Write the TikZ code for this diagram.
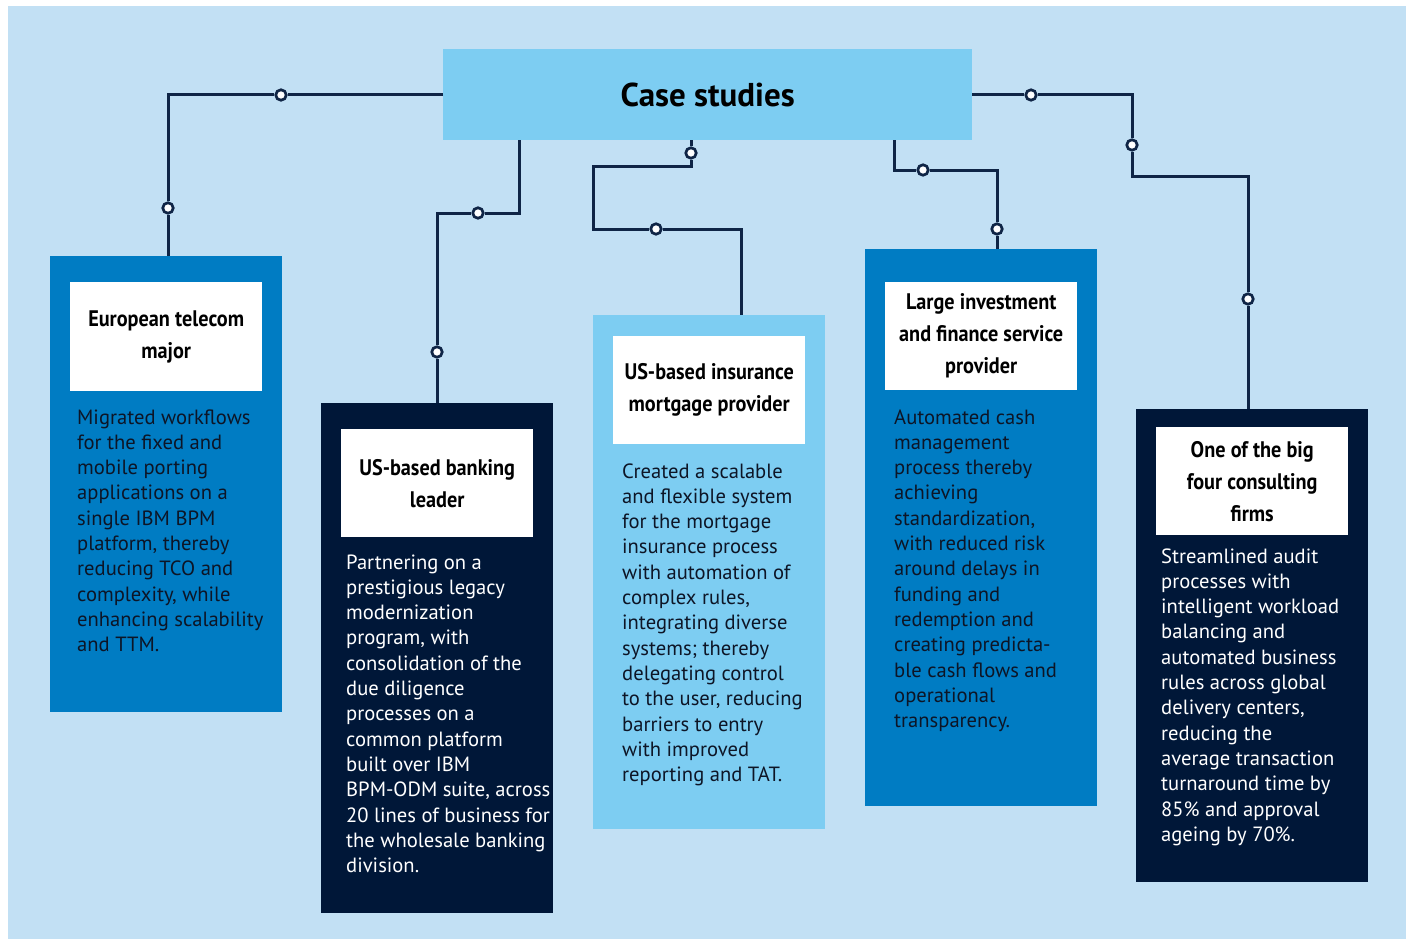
\documentclass[tikz,border=0pt]{standalone}
\usepackage{fontspec}
\setmainfont{PT Sans}
\newfontfamily\titlefont[FakeStretch=0.9]{PT Sans Bold}
\newfontfamily\headfont{PT Sans Bold}
\definecolor{bgblue}{HTML}{C2E0F4}
\definecolor{headblue}{HTML}{7DCDF2}
\definecolor{midblue}{HTML}{007CC3}
\definecolor{navybox}{HTML}{001738}
\definecolor{linenavy}{HTML}{0F2546}
\definecolor{textdark}{HTML}{0D1526}
\tikzset{
  card/.style={anchor=north west, inner sep=0pt, minimum width=232pt},
  titlebox/.style={anchor=north west, inner sep=0pt, fill=white, minimum width=192pt, minimum height=108pt,
    align=center, text=black, font=\titlefont\fontsize{22.5}{32}\selectfont},
  bodytext/.style={anchor=base west, inner sep=0pt},
  conn/.style={draw=linenavy, line width=3pt},
  knob/.style={circle, draw=linenavy, line width=2.7pt, fill=white, minimum size=10.5pt, inner sep=0pt},
}
\newcommand{\bodypar}[1]{\parbox[t]{240pt}{\raggedright\fontsize{20.6}{25.3}\selectfont #1}}
\begin{document}
\begin{tikzpicture}[x=1pt,y=-1pt]
\useasboundingbox (0,0) rectangle (1410,939);
\fill[bgblue] (8,6) rectangle (1406,939);

% header
\node[anchor=north west, inner sep=0pt, fill=headblue, minimum width=529pt, minimum height=91pt,
  font=\headfont\fontsize{33}{38}\selectfont, text=black] (head) at (443,49) {Case studies};

% cards
\node[card, fill=midblue, minimum height=456pt] (b1) at (50,256) {};
\node[card, fill=navybox, minimum height=510pt] (b2) at (321,403) {};
\node[card, fill=headblue, minimum height=514pt] (b3) at (593,315) {};
\node[card, fill=midblue, minimum height=557pt] (b4) at (865,249) {};
\node[card, fill=navybox, minimum height=473pt] (b5) at (1136,409) {};

% title boxes
\node[titlebox, minimum height=109pt] (t1) at (70,282) {European telecom\\major};
\node[titlebox] (t2) at (341,429) {US-based banking\\leader};
\node[titlebox] (t3) at (613,336) {US-based insurance\\mortgage provider};
\node[titlebox] (t4) at (885,282) {Large investment\\and finance service\\provider};
\node[titlebox] (t5) at (1156,427) {One of the big\\four consulting\\firms};

% body texts
\node[bodytext, text=textdark] (d1) at (77,424) {\bodypar{Migrated workflows\\for the fixed and\\mobile porting\\applications on a\\single IBM BPM\\platform, thereby\\reducing TCO and\\complexity, while\\enhancing scalability\\and TTM.}};
\node[bodytext, text=white] (d2) at (346,569) {\bodypar{Partnering on a\\prestigious legacy\\modernization\\program, with\\consolidation of the\\due diligence\\processes on a\\common platform\\built over IBM\\BPM-ODM suite, across\\20 lines of business for\\the wholesale banking\\division.}};
\node[bodytext, text=textdark] (d3) at (622,478) {\bodypar{Created a scalable\\and flexible system\\for the mortgage\\insurance process\\with automation of\\complex rules,\\integrating diverse\\systems; thereby\\delegating control\\to the user, reducing\\barriers to entry\\with improved\\reporting and TAT.}};
\node[bodytext, text=textdark] (d4) at (894,424) {\bodypar{Automated cash\\management\\process thereby\\achieving\\standardization,\\with reduced risk\\around delays in\\funding and\\redemption and\\creating predicta-\\ble cash flows and\\operational\\transparency.}};
\node[bodytext, text=white] (d5) at (1161,563) {\bodypar{Streamlined audit\\processes with\\intelligent workload\\balancing and\\automated business\\rules across global\\delivery centers,\\reducing the\\average transaction\\turnaround time by\\85\% and approval\\ageing by 70\%.}};

% connector corner points
\coordinate (k1) at (168,95);
\coordinate (k2a) at (519,140);
\coordinate (k2b) at (519,213);
\coordinate (k2c) at (437,213);
\coordinate (k3a) at (691,140);
\coordinate (k3b) at (691,166);
\coordinate (k3c) at (593,166);
\coordinate (k3d) at (593,229);
\coordinate (k3e) at (741,229);
\coordinate (k4a) at (894,140);
\coordinate (k4b) at (894,170);
\coordinate (k4c) at (997,170);
\coordinate (k5a) at (1132,95);
\coordinate (k5b) at (1132,176);
\coordinate (k5c) at (1248,176);

% knobs
\node[knob] (c1a) at (281,95) {};
\node[knob] (c1b) at (168,208) {};
\node[knob] (c2a) at (478,213) {};
\node[knob] (c2b) at (437,352) {};
\node[knob] (c3a) at (691,153) {};
\node[knob] (c3b) at (656,229) {};
\node[knob] (c4a) at (923,170) {};
\node[knob] (c4b) at (997,229) {};
\node[knob] (c5a) at (1031,95) {};
\node[knob] (c5b) at (1132,145) {};
\node[knob] (c5c) at (1248,299) {};

% connectors
\draw[conn] (head.west |- c1a) -- (c1a) -- (k1) -- (c1b) -- (k1 |- b1.north);
\draw[conn] (k2a) -- (k2b) -- (c2a) -- (k2c) -- (c2b) -- (c2b |- b2.north);
\draw[conn] (k3a) -- (c3a) -- (k3b) -- (k3c) -- (k3d) -- (c3b) -- (k3e) -- (k3e |- b3.north);
\draw[conn] (k4a) -- (k4b) -- (c4a) -- (k4c) -- (c4b) -- (c4b |- b4.north);
\draw[conn] (head.east |- c5a) -- (c5a) -- (k5a) -- (c5b) -- (k5b) -- (k5c) -- (c5c) -- (c5c |- b5.north);
\end{tikzpicture}
\end{document}
